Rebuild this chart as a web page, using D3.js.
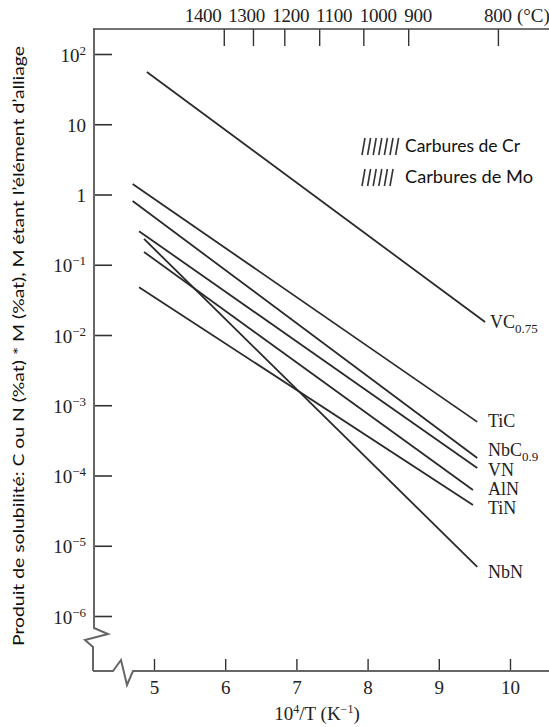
<!DOCTYPE html>
<html>
<head>
<meta charset="utf-8">
<script src="https://cdn.jsdelivr.net/npm/d3@7"></script>
<style>
  html, body { margin: 0; padding: 0; background: #fff; }
  svg { display: block; }
</style>
</head>
<body>
<svg id="chart" width="549" height="727"></svg>
<script>
// ---------------- DATA ----------------
const compounds   = ["VC", "TiC", "NbC", "VN", "AlN", "TiN", "NbN"];
const labelMain   = ["VC", "TiC", "NbC", "VN", "AlN", "TiN", "NbN"];
const labelSub    = ["0.75", "", "0.9", "", "", "", ""];
// 10^4/T (K^-1) at each line's ends
const invTStart   = [4.90, 4.70, 4.70, 4.79, 4.86, 4.79, 4.86];
const invTEnd     = [9.65, 9.54, 9.54, 9.54, 9.48, 9.48, 9.54];
// solubility product at each line's ends
const prodStart   = [55.5, 1.41, 0.81, 0.30, 0.152, 0.048, 0.233];
const prodEnd     = [1.53e-2, 5.8e-4, 1.77e-4, 1.28e-4, 6.2e-5, 3.8e-5, 5.0e-6];

const xTicks      = [5, 6, 7, 8, 9, 10];
const yTicks      = [1e2, 1e1, 1, 1e-1, 1e-2, 1e-3, 1e-4, 1e-5, 1e-6];
const yTickLabels = ["10|2", "10", "1", "10|−1", "10|−2", "10|−3", "10|−4", "10|−5", "10|−6"];
const tempLabels  = ["1400", "1300", "1200", "1100", "1000", "900", "800"];
const tempTickAt  = [5.98, 6.39, 6.83, 7.32, 7.94, 8.57, 9.83];   // 10^4/T position of top ticks
const tempLabelAt = [5.69, 6.30, 6.92, 7.53, 8.15, 8.71, 9.83];   // 10^4/T position of top labels
const legendItems = ["Carbures de Cr", "Carbures de Mo"];
const legendHatch = [7, 6];

// ---------------- LAYOUT ----------------
const svg = d3.select("#chart");
const serif = "'Liberation Serif', 'Times New Roman', serif";
const sans = "Lato, 'Open Sans', sans-serif";
const ink = "#222";
const axisX0 = 94, axisTop = 29, axisBottom = 671, rightEdge = 549;

const x = d3.scaleLinear().domain([5, 10]).range([154, 510]);
const y = d3.scaleLog().domain([1e-6, 1e2]).range([616, 54]);

// ---- left axis (ticks inward) ----
const yAxis = d3.axisLeft(y).tickValues(yTicks).tickSize(-18).tickFormat((d, i) => yTickLabels[i]);
const gy = svg.append("g").attr("transform", `translate(${axisX0},0)`).call(yAxis);
gy.select(".domain").remove();
gy.selectAll(".tick line").attr("stroke", "#333").attr("stroke-width", 1.6);
gy.selectAll(".tick text").each(function(d, i) {
  const t = d3.select(this);
  const parts = yTickLabels[i].split("|");
  t.text(null).attr("x", -8).attr("dy", "0.38em")
    .attr("font-family", serif).attr("font-size", 19).attr("fill", ink).attr("text-anchor", "end");
  t.append("tspan").text(parts[0]);
  if (parts[1]) t.append("tspan").attr("font-size", 13).attr("dy", "-0.55em").text(parts[1]);
});

// left axis line with break
svg.append("path")
  .attr("d", `M${axisX0},${axisTop} L${axisX0},628 L108,634 L85,640 L93,647 L93,${axisBottom}`)
  .attr("fill", "none").attr("stroke", "#666").attr("stroke-width", 2).attr("stroke-linejoin", "miter");

// ---- bottom axis ----
const xAxis = d3.axisBottom(x).tickValues(xTicks).tickSize(-12).tickFormat(d3.format("d"));
const gx = svg.append("g").attr("transform", `translate(0,${axisBottom})`).call(xAxis);
gx.select(".domain").remove();
gx.selectAll(".tick line").attr("stroke", "#333").attr("stroke-width", 1.4);
gx.selectAll(".tick text").attr("y", 23).attr("dy", 0)
  .attr("font-family", serif).attr("font-size", 19).attr("fill", ink);
svg.append("path")
  .attr("d", `M93,${axisBottom} L113,${axisBottom} L121,660 L127,685 L133,${axisBottom} L${rightEdge},${axisBottom}`)
  .attr("fill", "none").attr("stroke", "#666").attr("stroke-width", 2);

// bottom title
const xt = svg.append("text").attr("x", 317).attr("y", 720).attr("text-anchor", "middle")
  .attr("font-family", serif).attr("font-size", 19).attr("fill", ink);
xt.append("tspan").text("10");
xt.append("tspan").attr("font-size", 12).attr("dy", -7).text("4");
xt.append("tspan").attr("dy", 7).text("/T (K");
xt.append("tspan").attr("font-size", 12).attr("dy", -7).text("−1");
xt.append("tspan").attr("dy", 7).text(")");

// ---- top axis (temperature) ----
const topAxis = d3.axisTop(x).tickValues(tempTickAt).tickSize(-17).tickFormat("");
const gt = svg.append("g").attr("transform", `translate(0,${axisTop})`).call(topAxis);
gt.select(".domain").remove();
gt.selectAll(".tick line").attr("stroke", "#333").attr("stroke-width", 1.4);
svg.append("line").attr("x1", axisX0 - 1).attr("x2", rightEdge).attr("y1", axisTop).attr("y2", axisTop)
  .attr("stroke", "#444").attr("stroke-width", 1.6);
svg.append("g").selectAll("text").data(tempLabels).join("text")
  .attr("x", (d, i) => x(tempLabelAt[i])).attr("y", 22).attr("text-anchor", "middle")
  .attr("font-family", serif).attr("font-size", 19).attr("fill", ink)
  .attr("letter-spacing", -0.3)
  .text(d => d);
svg.append("text").attr("x", x(tempLabelAt[6]) + 19).attr("y", 22)
  .attr("font-family", serif).attr("font-size", 19).attr("fill", ink).text("(°C)");

// ---- y title ----
svg.append("text")
  .attr("transform", "translate(24,346) rotate(-90)")
  .attr("text-anchor", "middle").attr("font-family", sans).attr("font-size", 16).attr("fill", "#111")
  .attr("textLength", 600).attr("lengthAdjust", "spacingAndGlyphs")
  .text("Produit de solubilité: C ou N (%at) * M (%at), M étant l’élément d’alliage");

// ---- lines ----
const lineGen = d3.line().x(d => x(d[0])).y(d => y(d[1]));
svg.append("g").selectAll("path").data(compounds).join("path")
  .attr("d", (d, i) => lineGen([[invTStart[i], prodStart[i]], [invTEnd[i], prodEnd[i]]]))
  .attr("fill", "none").attr("stroke", "#2a2a2a").attr("stroke-width", 1.8);

// ---- line labels ----
const labelOffsets = [6, 5, -2, 8, 5, 9, 11];
const lg = svg.append("g");
compounds.forEach((c, i) => {
  const t = lg.append("text")
    .attr("x", i === 0 ? 490 : 488)
    .attr("y", y(prodEnd[i]) + labelOffsets[i])
    .attr("font-family", serif).attr("font-size", 18).attr("fill", ink);
  t.append("tspan").text(labelMain[i]);
  if (labelSub[i]) t.append("tspan").attr("font-size", 13).attr("dy", 5).text(labelSub[i]);
});

// ---- legend ----
const legendY = [155, 186];
const legendWidths = [115, 128];
legendItems.forEach((name, k) => {
  const g = svg.append("g");
  const n = legendHatch[k];
  g.selectAll("line").data(d3.range(n)).join("line")
    .attr("x1", j => 362 + j * 5.6).attr("y1", legendY[k])
    .attr("x2", j => 365 + j * 5.6).attr("y2", legendY[k] - 17)
    .attr("stroke", "#333").attr("stroke-width", 1.6);
  g.append("text").attr("x", 405).attr("y", legendY[k] - 3)
    .attr("font-family", sans).attr("font-size", 17).attr("fill", "#111")
    .attr("textLength", legendWidths[k]).attr("lengthAdjust", "spacingAndGlyphs")
    .text(name);
});
</script>
</body>
</html>
